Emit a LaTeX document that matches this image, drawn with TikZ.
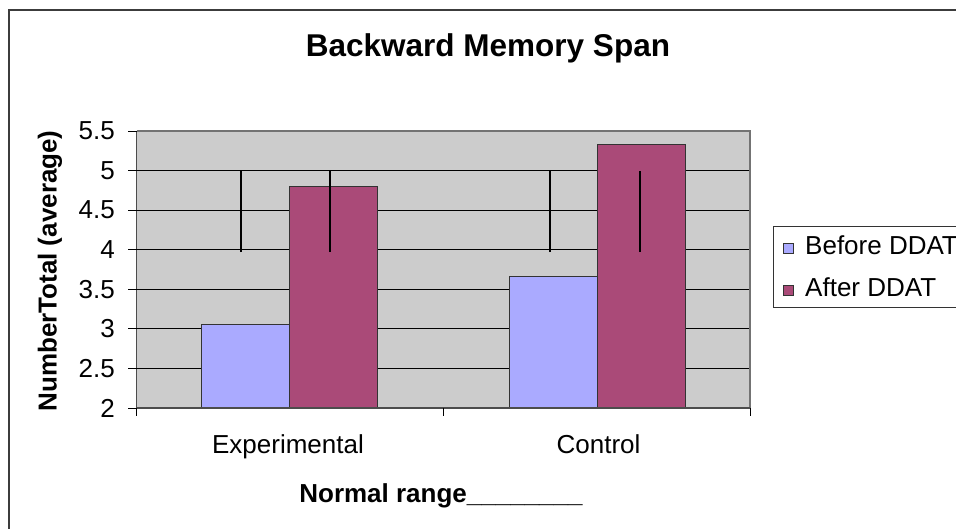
\documentclass[tikz,border=0pt]{standalone}
\usepackage{fontspec}
\setmainfont{Liberation Sans}
\usetikzlibrary{positioning}
\definecolor{beforeblue}{RGB}{170, 170, 255}
\definecolor{afterplum}{RGB}{170, 74, 120}
\definecolor{plotgray}{RGB}{204, 204, 204}
\definecolor{framegray}{RGB}{60, 60, 60}

\begin{document}
\begin{tikzpicture}[
  x=1pt, y=1pt,
  txt/.style={inner sep=0pt, font=\fontsize{26}{30}\selectfont},
  btxt/.style={inner sep=0pt, font=\fontsize{26}{30}\selectfont\bfseries},
  bar/.style={draw=black!80, line width=0.9pt},
  errbar/.style={draw=black, line width=1.6pt},
  grid/.style={draw=black, line width=0.9pt},
  axis/.style={draw=black!70, line width=1.3pt},
]
  \useasboundingbox (0,0) rectangle (956,529);
  \fill[white] (0,0) rectangle (956,529);

  % Chart frame
  \draw[framegray, line width=1.6pt] (9,-5) -- (9,519) -- (961,519);

  % Title
  \node[inner sep=0pt, anchor=base, font=\fontsize{31.5}{36}\selectfont\bfseries] (title) at (488,472.3) {Backward Memory Span};

  % Plot area, one y unit per data unit
  \begin{scope}[yshift=-37.28pt, y=79.14pt]
    \fill[plotgray] (136.5,2) rectangle (750,5.5);
    \foreach \v in {2.5,3,3.5,4,4.5,5}
      \draw[grid] (136.5,\v) -- (750,\v);
    \draw[black!55, line width=1.1pt] (136.5,5.5) -- (750,5.5) -- (750,2);

    % Bars
    \filldraw[bar, fill=beforeblue] (201.7,2) rectangle (289.7,3.06);
    \filldraw[bar, fill=afterplum] (289.7,2) rectangle (377.7,4.80);
    \filldraw[bar, fill=beforeblue] (509.3,2) rectangle (597,3.66);
    \filldraw[bar, fill=afterplum] (597,2) rectangle (685,5.33);

    % Error bars
    \draw[errbar] (241,3.97) -- (241,5);
    \draw[errbar] (330,3.97) -- (330,5);
    \draw[errbar] (550,3.97) -- (550,5);
    \draw[errbar] (640,3.97) -- (640,5);

    % Axes and ticks
    \draw[axis] (136.5,5.5) -- (136.5,2) -- (750,2);
    \foreach \v in {2,2.5,3,3.5,4,4.5,5,5.5} {
      \draw[black, line width=0.9pt] (128,\v) -- (136.5,\v);
      \node[txt, anchor=east] (tick\v) at (115,\v) {\v};
    }
  \end{scope}
  \draw[black, line width=0.9pt] (136.5,121) -- (136.5,113);
  \draw[black, line width=0.9pt] (443,121) -- (443,113);
  \draw[black, line width=0.9pt] (750,121) -- (750,113);

  % Axis labels
  \node[txt, anchor=base] (expt) at (288,75) {Experimental};
  \node[txt, anchor=base] (ctrl) at (598.5,75) {Control};
  \node[btxt, anchor=base] (xlabel) at (441,26) {Normal range\_\_\_\_\_\_\_\_};
  \node[btxt, rotate=90] (ylabel) at (50,258) {NumberTotal (average)};

  % Legend
  \draw[black!80, line width=1pt, fill=white] (773,302) rectangle (975,221);
  \filldraw[draw=black!80, line width=0.8pt, fill=beforeblue] (783,275.5) rectangle (793,285.5);
  \filldraw[draw=black!80, line width=0.8pt, fill=afterplum] (783,233.5) rectangle (793,243.5);
  \node[txt, anchor=base west] (before) at (805,274) {Before DDAT};
  \node[txt, anchor=base west] (after) at (805,232) {After DDAT};
\end{tikzpicture}
\end{document}
